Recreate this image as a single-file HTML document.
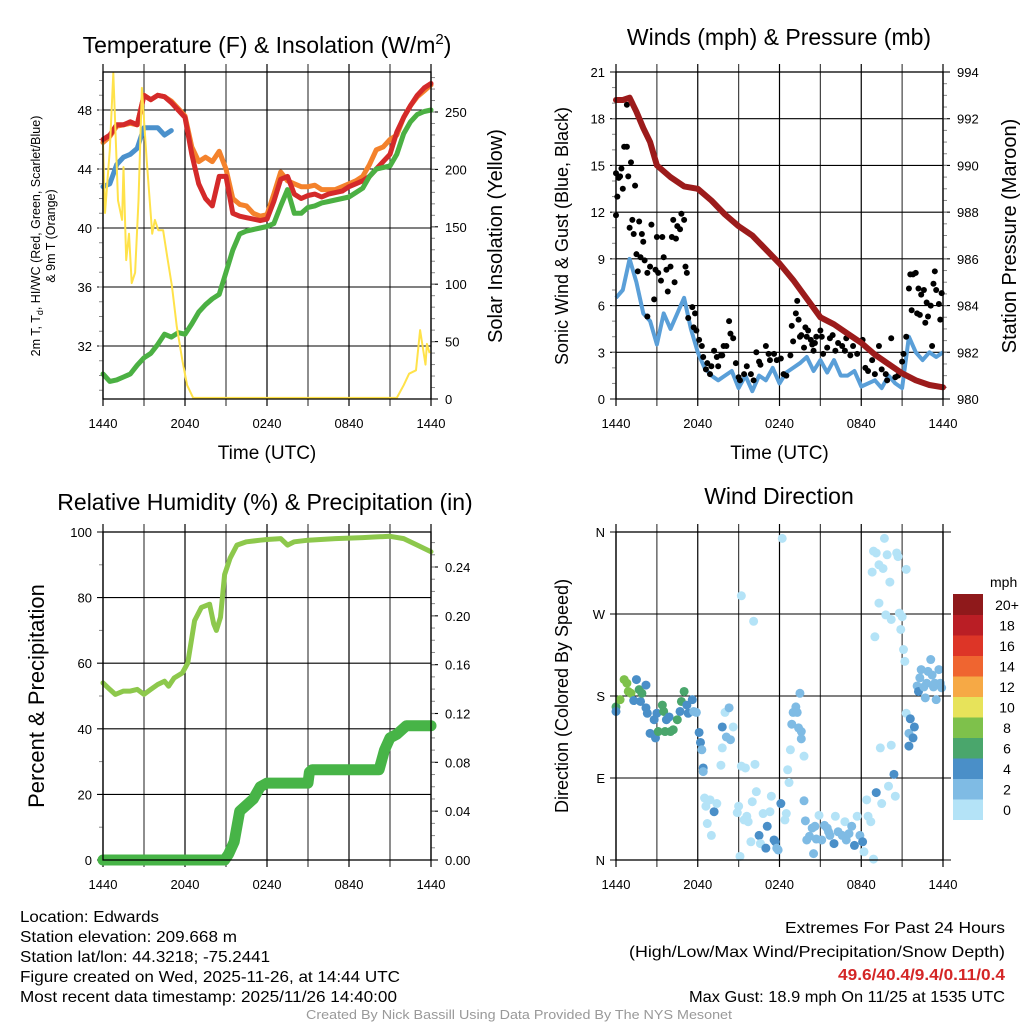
<!DOCTYPE html>
<html><head><meta charset="utf-8"><style>
body{margin:0;background:#fff}
svg{display:block;font-family:"Liberation Sans",sans-serif}
</style></head><body>
<svg id="fig" width="1024" height="1024" viewBox="0 0 1024 1024" xmlns="http://www.w3.org/2000/svg">
<rect width="1024" height="1024" fill="#fff"/>
<text x="267" y="53" font-size="23" text-anchor="middle">Temperature (F) &amp; Insolation (W/m<tspan dy="-9" font-size="15">2</tspan><tspan dy="9">)</tspan></text>
<text x="779" y="45" font-size="23" text-anchor="middle">Winds (mph) &amp; Pressure (mb)</text>
<text x="265" y="510" font-size="23" text-anchor="middle">Relative Humidity (%) &amp; Precipitation (in)</text>
<text x="779" y="504" font-size="23" text-anchor="middle">Wind Direction</text>
<g id="footer" font-size="16" lengthAdjust="spacingAndGlyphs">
<text x="20" y="922" textLength="139" lengthAdjust="spacingAndGlyphs">Location: Edwards</text>
<text x="20" y="942" textLength="217" lengthAdjust="spacingAndGlyphs">Station elevation: 209.668 m</text>
<text x="20" y="962" textLength="250" lengthAdjust="spacingAndGlyphs">Station lat/lon: 44.3218; -75.2441</text>
<text x="20" y="982" textLength="380" lengthAdjust="spacingAndGlyphs">Figure created on Wed, 2025-11-26, at 14:44 UTC</text>
<text x="20" y="1002" textLength="377" lengthAdjust="spacingAndGlyphs">Most recent data timestamp: 2025/11/26 14:40:00</text>
<text x="785" y="933" textLength="220" lengthAdjust="spacingAndGlyphs">Extremes For Past 24 Hours</text>
<text x="629" y="957" textLength="376" lengthAdjust="spacingAndGlyphs">(High/Low/Max Wind/Precipitation/Snow Depth)</text>
<text x="838" y="980" fill="#d42626" font-weight="bold" textLength="167" lengthAdjust="spacingAndGlyphs">49.6/40.4/9.4/0.11/0.4</text>
<text x="689" y="1002" textLength="316" lengthAdjust="spacingAndGlyphs">Max Gust: 18.9 mph On 11/25 at 1535 UTC</text>
<text x="306" y="1019" font-size="13" fill="#999" textLength="426" lengthAdjust="spacingAndGlyphs">Created By Nick Bassill Using Data Provided By The NYS Mesonet</text>
</g>
</svg>
<script>
const halfHours=[0,0.5,1,1.5,2,2.5,3,3.5,4,4.5,5,5.5,6,6.5,7,7.5,8,8.5,9,9.5,10,10.5,11,11.5,12,12.5,13,13.5,14,14.5,15,15.5,16,16.5,17,17.5,18,18.5,19,19.5,20,20.5,21,21.5,22,22.5,23,23.5,24];
const timeTickLabels=["1440","2040","0240","0840","1440"];
const temp2m=[46,46.3,47,47,47.2,47,49,48.7,49,48.9,48.5,48,47.5,45,43,42,41.5,43.5,43.5,41,40.8,40.7,40.6,40.5,40.6,41.8,43.3,43.5,42.3,42,42.2,42.3,42.1,42.3,42.4,42.5,42.8,43,43.2,43.5,44,44.5,45,46.5,47.5,48.3,49,49.5,49.8];
const temp9m=[45.8,46.2,46.9,47,47.1,47,49,48.7,49,48.9,48.6,48.1,47.6,45.5,44.5,44.8,44.5,45.2,44,42,41.6,41.5,41,40.8,40.9,42.3,43.8,43.2,43,42.8,42.8,42.9,42.6,42.6,42.6,42.8,43,43.2,43.5,44.3,45.3,45.5,46,46.3,47.5,48.3,48.9,49.3,49.7];
const dewpoint=[30.1,29.6,29.7,29.9,30.1,30.7,31.2,31.5,32.1,32.8,32.6,32.9,32.8,33.5,34.3,34.8,35.2,35.5,37,38.5,39.6,39.8,39.9,40,40.1,40.3,41.5,42.6,41,41,41.4,41.5,41.7,41.8,41.9,42,42.1,42.4,42.7,43.5,44,44.1,44.2,45,46.4,47.2,47.7,47.9,48];
const heatIndex=[42.8,43,44.3,44.8,45,45.4,46.8,46.8,46.8,46.3,46.6,null,null,null,null,null,null,null,null,null,null,null,null,null,null,null,null,40.4,null,null,null,null,null,null,null,null,null,null,null,null,null,null,null,null,null,45,null,null,null];
const solarTimes=[0,0.15,0.5,0.75,0.9,1.1,1.4,1.5,1.7,1.9,2.1,2.35,2.6,2.85,3.2,3.6,3.8,4.05,4.4,4.7,5.05,5.4,5.8,6.15,6.6,21.5,22,22.4,22.9,23.2,23.6,23.7,23.9];
const solarVals=[223,162,217,284,237,173,156,202,121,144,101,110,173,271,208,144,156,147,147,124,98,63,34,12,1,1,12,22,25,60,30,48,40];
const windSpeed=[6.5,7,9,7.5,5.5,5,3.5,5.5,4.5,5.5,6.5,4.5,3,2,1.5,1.2,1.5,1.8,0.7,1.5,0.5,1.5,1.2,2,1,1.7,2,2.3,2.7,1.8,2.5,1.7,2.5,1.5,1.5,1.8,0.8,1,1.2,0.7,1.5,1,0.7,4,3,2.5,3,2.7,3];
const pressTimes=[0,0.5,1,1.5,2,2.5,3,4,5,6,7,8,9,10,11,12,13,14,15,16,17,18,19,20,21,22,23,24];
const pressVals=[992.8,992.8,992.9,992.3,991.6,991.0,990.0,989.5,989.1,989.0,988.5,987.9,987.4,987.0,986.4,985.8,985.1,984.3,983.5,983.2,982.8,982.4,981.9,981.5,981.1,980.8,980.6,980.5];
const gustTimes=[0,0,0.1,0.2,0.3,0.4,0.5,0.6,0.8,0.8,0.9,1.1,1.0,1.2,1.3,1.4,1.5,1.6,1.7,1.8,1.9,2.0,2.1,2.3,2.3,2.5,2.6,2.8,2.9,3.0,3.1,3.3,3.4,3.5,3.7,3.8,4.0,4.1,4.2,4.3,4.4,4.5,4.7,4.8,5.0,5.1,5.2,5.3,5.6,5.7,5.8,5.9,6.1,6.3,6.4,6.6,6.7,6.9,7.0,7.2,7.4,7.5,7.7,7.8,7.9,8.1,8.3,8.4,8.6,8.8,9.0,9.1,9.4,9.6,9.9,10.1,10.3,10.5,10.6,11.0,11.2,11.3,11.6,11.8,12.1,12.3,12.5,12.8,12.9,13.0,13.2,13.3,13.4,13.5,13.6,13.8,13.9,14.0,14.1,14.3,14.4,14.5,14.6,14.7,15.0,15.1,15.2,15.5,15.7,15.9,16.1,16.3,16.6,16.8,16.9,17.2,17.4,17.7,17.9,18.1,18.3,18.5,18.8,19.0,19.3,19.5,19.8,19.9,20.2,20.5,20.7,21.0,21.1,21.3,21.5,21.6,21.7,21.8,22.0,22.1,22.2,22.3,22.4,22.6,22.7,22.8,22.9,23.1,23.2,23.3,23.4,23.5,23.7,23.8,23.9];
const gustVals=[14.5,11.8,13,14.2,14.3,14.8,13.5,16.2,16.2,18.9,14.3,15.2,11,11.5,10.6,13.7,9.3,8.2,11.4,9.1,10.6,10.1,8.9,8.1,5.3,8.5,11.2,6.4,8.3,10.4,8.1,7.6,10.4,9.1,8.3,6.9,8.5,10.4,11.5,7.5,10.3,11.1,10.9,11.9,11.5,8.5,8.1,5.2,5.9,4.6,5.5,4.4,3.8,3.4,2.7,1.9,2.3,1.6,2.1,3.1,2.7,2.1,2.8,2.8,3.4,3.4,5.0,4.2,3.9,2.3,1.4,1.2,1.6,2.1,1.6,1.2,3.0,2.4,2.2,3.4,2.9,2.5,2.9,2.5,2.6,1.6,1.5,2.8,4.7,3.7,5.5,6.3,5.1,4.0,4.1,3.3,4.6,4.0,4.4,3.8,3.5,3.1,3.6,4.0,4.4,4.0,2.9,3.3,3.9,4.1,3.1,3.6,3.4,3.1,3.9,2.8,3.4,2.9,3.7,3.8,2.0,1.8,2.5,1.6,3.4,1.9,1.6,1.2,3.9,1.4,1.5,2.4,2.9,4.0,7.1,8.0,5.7,8.0,8.1,5.5,7.1,5.4,6.7,7.0,4.9,6.2,5.3,6.0,3.4,7.4,8.2,7.0,6.1,5.1,6.8];
const rhTimes=[0,0.5,0.9,1.5,2,2.5,3,3.5,4,4.5,4.8,5.2,5.8,6.2,6.7,7.2,7.8,8.1,8.3,8.6,8.9,9.3,9.8,10.5,11.5,12,13,13.5,14,15,17,19,20,21,22,23,24];
const rhVals=[54,52,50.5,51.5,51.5,52,50.5,52,53.5,54.5,53,55.5,57,60,73,77,78,72,70,74,87,92,96,97,97.5,97.7,98,96,97,97.5,98,98.3,98.5,98.7,98,96,94];
const precipTimes=[0,8.9,9.2,9.6,10,10.5,11,11.5,12,15,15.1,15.3,20.2,20.6,21,21.5,22.2,24];
const precipVals=[0,0,0.005,0.015,0.04,0.045,0.05,0.06,0.063,0.063,0.072,0.074,0.074,0.09,0.1,0.103,0.11,0.11];
const dirTimes=[0,0,0.3,0.6,0.8,0.9,1.1,1.3,1.5,1.7,1.8,1.9,2.2,2.2,2.3,2.5,2.8,2.9,3.0,3.1,3.4,3.5,3.6,3.7,3.9,4.0,4.2,4.5,4.7,4.8,5.0,5.2,5.3,5.6,5.7,5.9,6.1,6.2,6.3,6.4,6.4,6.5,6.6,6.7,6.9,7.0,7.2,7.4,7.7,7.8,7.8,8.0,8.1,8.3,8.4,8.6,8.9,9.0,9.1,9.2,9.2,9.4,9.5,9.6,9.7,9.9,10.0,10.1,10.2,10.3,10.5,10.6,10.8,11.0,11.1,11.3,11.4,11.6,11.7,11.8,11.9,12.1,12.2,12.4,12.5,12.6,12.7,12.8,12.9,13.0,13.2,13.3,13.4,13.5,13.6,13.6,13.8,13.8,13.9,14.0,14.2,14.4,14.5,14.6,14.7,14.9,15.1,15.3,15.5,15.6,15.7,16.0,16.1,16.3,16.6,16.8,16.9,17.1,17.3,17.5,17.7,17.9,18.1,18.2,18.4,18.5,18.7,18.8,18.9,18.9,19.0,19.1,19.1,19.3,19.3,19.4,19.5,19.6,19.7,19.8,19.9,20.0,20.1,20.2,20.2,20.4,20.5,20.6,20.7,20.8,20.9,21.0,21.1,21.2,21.3,21.3,21.5,21.5,21.6,21.8,21.9,22.1,22.2,22.3,22.4,22.6,22.7,22.8,22.9,23.1,23.2,23.3,23.4,23.5,23.7,23.8,23.9];
const dirVals=[168,163,176,198,194,185,183,175,198,187,174,183,192,167,161,139,154,134,161,141,170,163,141,154,157,141,143,154,163,174,185,170,161,176,163,162,140,129,121,101,97,68,59,40,66,27,53,62,104,123,146,162,135,167,132,146,52,59,4,290,103,44,101,48,42,20,64,262,105,75,27,18,51,13,37,53,70,22,20,13,11,62,353,44,51,99,85,121,149,162,168,162,145,183,141,133,114,65,43,22,26,35,7,37,23,49,22,38,35,31,27,18,48,31,27,42,22,29,37,16,48,27,20,9,66,48,42,316,339,1,245,337,74,324,282,123,62,320,353,269,335,81,305,264,126,94,70,337,333,271,253,267,231,218,319,161,139,125,155,134,146,191,185,200,209,190,178,194,207,220,203,190,194,176,209,194,189];
const dirSpeeds=[7,5,9,9,9,9,9,5,5,7,5,7,5,5,5,5,5,5,5,7,7,7,7,5,5,7,7,7,5,7,7,5,5,5,3,3,5,5,3,5,3,1,1,1,1,1,5,1,1,1,5,1,3,3,3,1,1,1,1,1,1,1,1,1,1,1,1,1,1,1,5,1,1,5,5,1,1,5,5,3,3,5,1,1,1,1,1,1,3,3,3,3,3,3,3,3,1,3,3,3,3,3,3,3,3,1,3,3,3,3,3,5,1,3,3,1,3,3,3,5,1,3,5,1,1,1,1,1,1,1,1,1,5,1,1,1,1,1,1,1,1,1,1,1,1,5,1,1,1,1,1,1,1,1,1,1,3,5,5,5,5,3,5,3,3,3,3,3,3,3,3,3,3,3,3,3,3];
const speedBins=["0","2","4","6","8","10","12","14","16","18","20+"];
const speedColors=["#b4e3f7","#7fbbe4","#4a8fc8","#4aa66c","#7ec14b","#e7e35a","#f6a945","#ef6530","#dd3527","#ba1e25","#8f191b"];

const NS="http://www.w3.org/2000/svg";
const svg=document.getElementById('fig');
function mk(tag,attrs,parent){const e=document.createElementNS(NS,tag);for(const k in attrs)e.setAttribute(k,attrs[k]);(parent||svg).appendChild(e);return e;}
function txt(s,attrs,parent){const e=mk('text',attrs,parent);e.textContent=s;return e;}
function lin(d0,d1,r0,r1){return v=>r0+(v-d0)*(r1-r0)/(d1-d0);}
function pathFrom(xs,ys,fx,fy){let d='',pen=false;for(let i=0;i<xs.length;i++){if(ys[i]==null){pen=false;continue;}d+=(pen?'L':'M')+fx(xs[i]).toFixed(1)+','+fy(ys[i]).toFixed(1);pen=true;}return d;}

function frame(g,X0,X1,Y0,Y1,showTime){
  for(let h=0;h<=24;h+=3){const x=lin(0,24,X0,X1)(h);
    const l=mk('line',{x1:x,x2:x,y1:Y0-8,y2:Y1+7,stroke:(h%6==0)?'#000':'#444','stroke-width':1.2},g);
    
    }
  timeTickLabels.forEach((s,i)=>{const t=txt(s,{x:lin(0,4,X0,X1)(i),y:Y1+29,'font-size':13,'text-anchor':'middle'},g);
    
    });
  if(showTime){const t=txt('Time (UTC)',{x:(X0+X1)/2,y:Y1+60,'font-size':19,'text-anchor':'middle'},g);
    
    }
}
function yAxis(g,X0,X1,fy,ticks,labels,side,minor){
  ticks.forEach((v,i)=>{const y=fy(v);
    if(side=='L'){mk('line',{x1:X0-6,x2:X1,y1:y,y2:y,stroke:'#000','stroke-width':1.1},g);
      const t=txt(labels[i],{x:X0-11,y:y+5,'font-size':13,'text-anchor':'end'},g);
      
      }
    else{mk('line',{x1:X1,x2:X1+7,y1:y,y2:y,stroke:'#000','stroke-width':1.1},g);
      const t=txt(labels[i],{x:X1+14,y:y+5,'font-size':13},g);
      
      }
  });
  (minor||[]).forEach(v=>{const y=fy(v);const x=side=='L'?X0:X1;mk('line',{x1:x,x2:side=='L'?x-4:x+4,y1:y,y2:y,stroke:'#888','stroke-width':1},g);});
}
function border(g,X0,X1,Y0,Y1){mk('rect',{x:X0,y:Y0,width:X1-X0,height:Y1-Y0,fill:'none',stroke:'#000','stroke-width':1.3},g);}
function range(a,b,s){const r=[];for(let v=a;v<=b+1e-9;v+=s)r.push(+v.toFixed(4));return r;}

{const X0=103,X1=431,Y0=72,Y1=399;
 const g=mk('g',{});
 const fx=lin(0,24,X0,X1), fy=lin(32,48,346,110), fs=lin(0,250,399,112);
 frame(g,X0,X1,Y0,Y1,true);
 yAxis(g,X0,X1,fy,[32,36,40,44,48],["32","36","40","44","48"],'L',range(29,50,1));
 yAxis(g,X0,X1,fs,[0,50,100,150,200,250],["0","50","100","150","200","250"],'R',range(10,280,10));
 const lt=txt('',{x:0,y:0,'font-size':12.5,'text-anchor':'middle',transform:'translate(40,236) rotate(-90)'},g);
 
 lt.innerHTML='<tspan x="0" dy="0">2m T, T<tspan font-size="9" dy="3">d</tspan><tspan dy="-3">, HI/WC (Red, Green, Scarlet/Blue)</tspan></tspan><tspan x="0" dy="15">&amp; 9m T (Orange)</tspan>';
 const rt=txt('Solar Insolation (Yellow)',{x:0,y:0,'font-size':20,'text-anchor':'middle',transform:'translate(502,236) rotate(-90)'},g);
 
 const series=[[temp9m,'#f4822c','temp-9m-line'],[temp2m,'#d42a2a','temp-2m-line'],[heatIndex,'#4b91cc','heat-index-line'],[dewpoint,'#4bb043','dewpoint-line']];
 series.forEach(s=>{const p=mk('path',{d:pathFrom(halfHours,s[0],fx,fy),fill:'none',stroke:s[1],'stroke-width':5,'stroke-linejoin':'round','stroke-linecap':'round'},g);
   });
 const sp=mk('path',{d:pathFrom(solarTimes,solarVals,fx,fs),fill:'none',stroke:'#ffe24a','stroke-width':2,'stroke-linejoin':'round'},g);
 
 border(g,X0,X1,Y0,Y1);
}
{const X0=616,X1=943,Y0=72,Y1=399;
 const g=mk('g',{});
 const fx=lin(0,24,X0,X1), fy=lin(0,21,Y1,Y0), fp=lin(980,994,Y1,Y0);
 frame(g,X0,X1,Y0,Y1,true);
 yAxis(g,X0,X1,fy,[0,3,6,9,12,15,18,21],["0","3","6","9","12","15","18","21"],'L',range(1,20,1));
 yAxis(g,X0,X1,fp,[980,982,984,986,988,990,992,994],["980","982","984","986","988","990","992","994"],'R',range(980.5,993.5,0.5));
 const lt=txt('Sonic Wind & Gust (Blue, Black)',{x:0,y:0,'font-size':18,'text-anchor':'middle',transform:'translate(568,236) rotate(-90)'},g);
 
 const rt=txt('Station Pressure (Maroon)',{x:0,y:0,'font-size':20,'text-anchor':'middle',transform:'translate(1016,236) rotate(-90)'},g);
 
 const wp=mk('path',{d:pathFrom(halfHours,windSpeed,fx,fy),fill:'none',stroke:'#5a9fd8','stroke-width':4,'stroke-linejoin':'round'},g);
 
 gustTimes.forEach((t,i)=>{const c=mk('circle',{cx:fx(t),cy:fy(gustVals[i]),r:3,fill:'#000'},g);
   
   });
 const pp=mk('path',{d:pathFrom(pressTimes,pressVals,fx,fp),fill:'none',stroke:'#9c1b1b','stroke-width':6,'stroke-linejoin':'round','stroke-linecap':'round'},g);
 
 border(g,X0,X1,Y0,Y1);
}
{const X0=103,X1=431,Y0=532,Y1=860;
 const g=mk('g',{});
 const fx=lin(0,24,X0,X1), fy=lin(0,100,Y1,Y0), fr=lin(0,0.24,Y1,567);
 frame(g,X0,X1,Y0,Y1,false);
 yAxis(g,X0,X1,fy,[0,20,40,60,80,100],["0","20","40","60","80","100"],'L',range(10,90,20));
 yAxis(g,X0,X1,fr,[0,0.04,0.08,0.12,0.16,0.2,0.24],["0.00","0.04","0.08","0.12","0.16","0.20","0.24"],'R',range(0.01,0.26,0.01));
 const lt=txt('Percent & Precipitation',{x:0,y:0,'font-size':22,'text-anchor':'middle',transform:'translate(44,696) rotate(-90)'},g);
 
 const rp=mk('path',{d:pathFrom(rhTimes,rhVals,fx,fy),fill:'none',stroke:'#8dc84c','stroke-width':5,'stroke-linejoin':'round','stroke-linecap':'round'},g);
 
 const pp=mk('path',{d:pathFrom(precipTimes,precipVals,fx,fr),fill:'none',stroke:'#47b447','stroke-width':11,'stroke-linejoin':'round','stroke-linecap':'round'},g);
 
 border(g,X0,X1,Y0,Y1);
}
{const X0=616,X1=943,Y0=532,Y1=860;
 const g=mk('g',{});
 const fx=lin(0,24,X0,X1), fy=lin(0,360,Y1,Y0);
 frame(g,X0,X1,Y0,Y1,false);
 yAxis(g,X0,X1,fy,[0,90,180,270,360],["N","E","S","W","N"],'L',[]);
 [0,90,180,270,360].forEach(v=>mk('line',{x1:X1,x2:X1+8,y1:fy(v),y2:fy(v),stroke:'#000'},g));
 const lt=txt('Direction (Colored By Speed)',{x:0,y:0,'font-size':18,'text-anchor':'middle',transform:'translate(568,696) rotate(-90)'},g);
 
 dirTimes.forEach((t,i)=>{const bin=Math.min(10,Math.floor(dirSpeeds[i]/2));
   const c=mk('circle',{cx:fx(t),cy:fy(dirVals[i]),r:4.5,fill:speedColors[bin]},g);
   
   });
 border(g,X0,X1,Y0,Y1);
 const lg=mk('g',{},g);
 txt('mph',{x:990,y:587,'font-size':14},lg);
 const by0=594,bh=20.5;
 speedBins.forEach((s,i)=>{const y=by0+(10-i)*bh;
   const r=mk('rect',{x:953,y:y,width:30,height:bh+0.5,fill:speedColors[i]},lg);
   
   
   const t=txt(s,{x:1007,y:y+16,'font-size':14,'text-anchor':'middle'},lg);
   
   });
}
</script>
</body></html>
